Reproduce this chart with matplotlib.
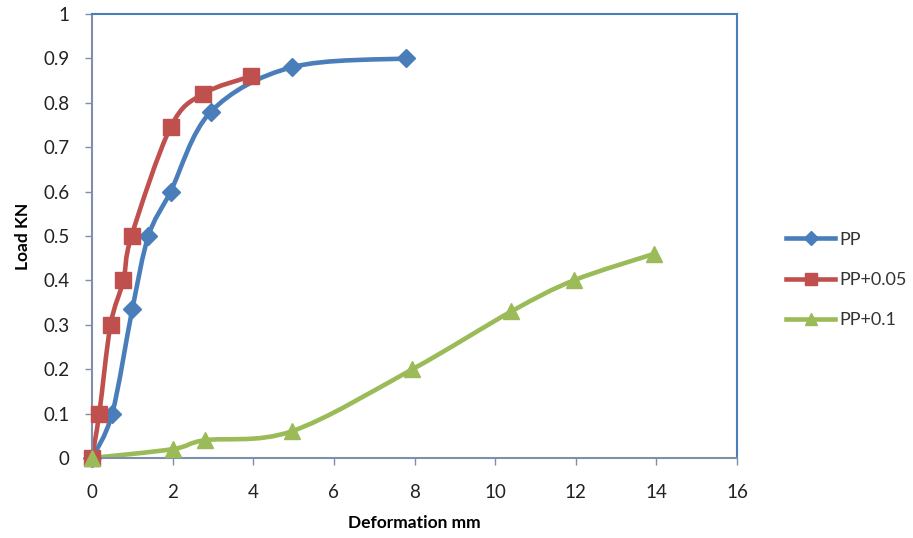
import matplotlib
matplotlib.use('Agg')
import matplotlib.pyplot as plt
from matplotlib.path import Path
from matplotlib.patches import PathPatch
import numpy as np

plt.rcParams['font.family'] = ['Lato', 'DejaVu Sans']

# data
pp_x = [0, 0.5, 1.0, 1.4, 1.95, 2.95, 4.95, 7.8]
pp_y = [0, 0.1, 0.335, 0.5, 0.6, 0.78, 0.88, 0.9]

pp05_x = [0, 0.18, 0.46, 0.78, 0.98, 1.95, 2.75, 3.95]
pp05_y = [0, 0.1, 0.3, 0.4, 0.5, 0.745, 0.82, 0.86]

pp1_x = [0, 2.0, 2.8, 4.95, 7.95, 10.4, 11.95, 13.95]
pp1_y = [0, 0.02, 0.04, 0.06, 0.2, 0.33, 0.4, 0.46]

labels = ['PP', 'PP+0.05', 'PP+0.1']
colors = ['#4a7ebb', '#c0504d', '#9bbb59']
markers = ['D', 's', '^']
msizes = [9, 11, 11]


def smooth_path(xs, ys, k=1/6):
    # Excel-style smoothed line: Catmull-Rom segments as cubic Beziers
    pts = np.column_stack([xs, ys])
    verts = [pts[0]]
    codes = [Path.MOVETO]
    n = len(pts)
    for i in range(n - 1):
        p0 = pts[max(i - 1, 0)]
        p1 = pts[i]
        p2 = pts[i + 1]
        p3 = pts[min(i + 2, n - 1)]
        c1 = p1 + (p2 - p0) * k
        c2 = p2 - (p3 - p1) * k
        verts += [c1, c2, p2]
        codes += [Path.CURVE4] * 3
    return Path(verts, codes)


fig = plt.figure(figsize=(9.13, 5.38), dpi=100)
ax = fig.add_axes([92 / 913, 80 / 538, 645 / 913, 444 / 538])

series = [(pp_x, pp_y), (pp05_x, pp05_y), (pp1_x, pp1_y)]
for (xs, ys), lab, c, m, ms in zip(series, labels, colors, markers, msizes):
    ax.add_patch(PathPatch(smooth_path(xs, ys), fill=False, edgecolor=c,
                           lw=3.3, zorder=2))
    ax.plot(xs, ys, linestyle='none', marker=m, color=c, markersize=ms,
            zorder=3, clip_on=False)
    ax.plot([], [], color=c, lw=3.3, marker=m, markersize=ms - 2, label=lab)

ax.set_xlim(0, 16)
ax.set_ylim(0, 1)
ax.set_xticks(range(0, 17, 2))
ax.set_yticks(np.arange(0, 1.01, 0.1))
ax.set_yticklabels(['0', '0.1', '0.2', '0.3', '0.4', '0.5', '0.6', '0.7',
                    '0.8', '0.9', '1'])

for s in ax.spines.values():
    s.set_color('#4a7ebb')
    s.set_linewidth(1.5)
ax.spines['bottom'].set_color('#7f8fa9')
ax.spines['left'].set_color('#7f8fa9')
ax.tick_params(direction='out', length=5, width=1, color='#7f8fa9',
               labelsize=13.5, labelcolor='#222222')
ax.tick_params(axis='x', pad=14)
ax.tick_params(axis='y', pad=11)

ax.set_xlabel('Deformation mm', fontsize=12.5, fontweight='bold', labelpad=10)
ax.set_ylabel('Load KN', fontsize=12.5, fontweight='bold', labelpad=9)

fig.legend(loc='center left', bbox_to_anchor=(770 / 913, 1 - 280 / 538),
           frameon=False, fontsize=13, labelspacing=1.35, handlelength=2.7,
           handletextpad=0.25, labelcolor='#333333')

fig.savefig('out.png', dpi=100)
